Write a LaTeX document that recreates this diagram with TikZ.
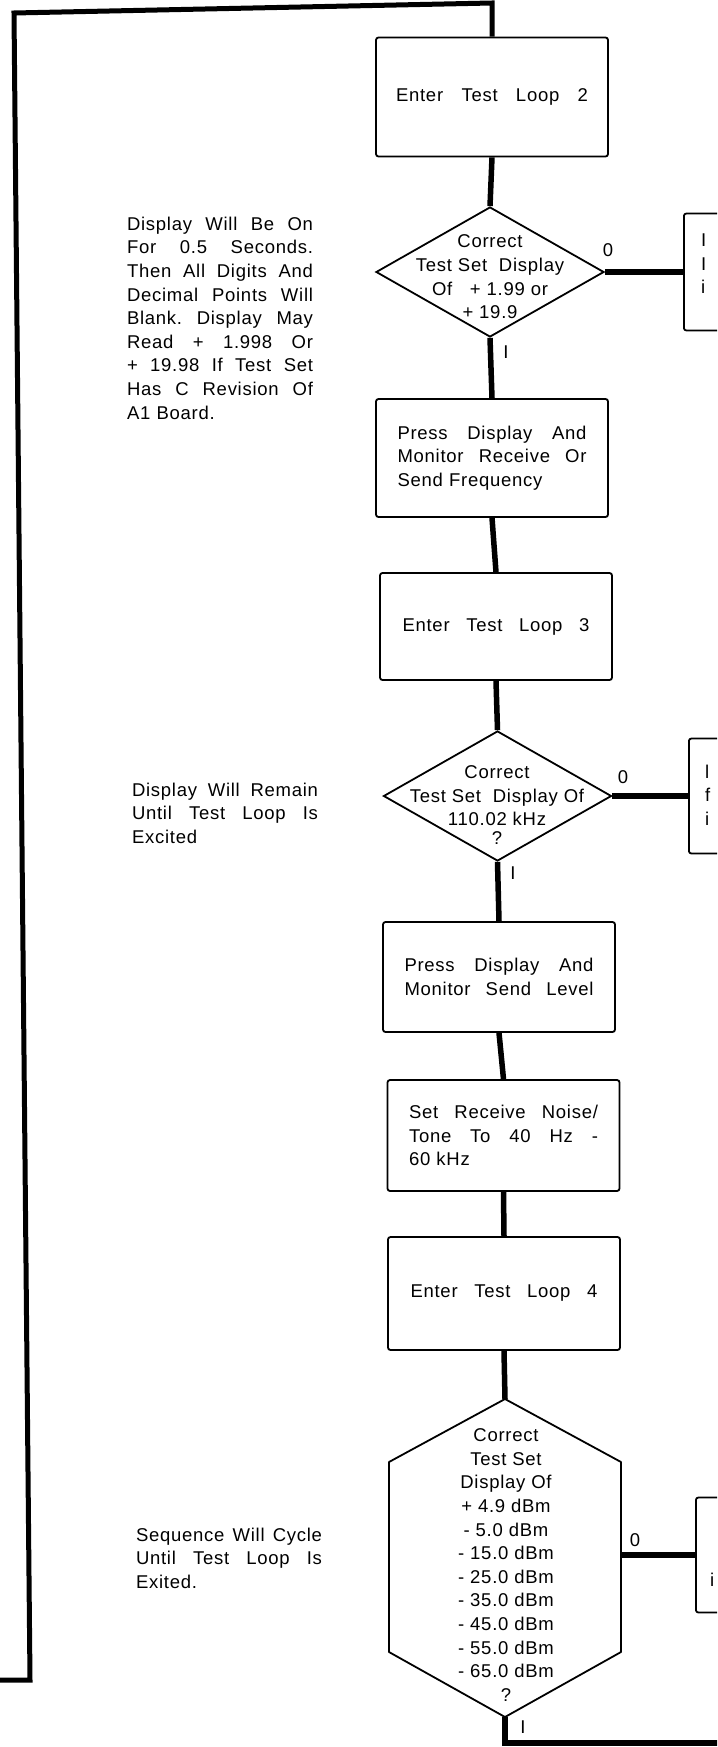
\documentclass[tikz,border=0pt]{standalone}
\usepackage{fontspec}
\setmainfont{Liberation Sans}[LetterSpace=4]
\usetikzlibrary{shapes.geometric}
\newlength{\spreadwd}
\newcommand{\flowfont}{\fontsize{18.5}{23.6}\selectfont\parindent=0pt\frenchspacing}
\newcommand{\spreadline}[1]{\leavevmode\hbox to \spreadwd{\spaceskip=0.3em plus 1fil\relax #1}}
\hbadness=10000
\tikzset{
  stepbox/.style={draw=black, line width=1.8pt, rounded corners=2.5pt, minimum width=232pt, inner sep=0pt, text width=#1, align=left, font=\flowfont, execute at begin node={\setlength{\spreadwd}{#1}}},
  stepbox/.default=189pt,
  decision/.style={diamond, draw=black, line width=1.8pt, minimum width=228pt, minimum height=130pt, inner sep=0pt},
  dectext/.style={align=center, inner sep=0pt, font=\flowfont},
  stubbox/.style={draw=black, line width=1.8pt, rounded corners=2.5pt, minimum width=100pt, minimum height=117pt, anchor=west},
  stubtext/.style={align=left, inner sep=0pt, anchor=west, font=\flowfont},
  note/.style={text width=#1, align=left, inner sep=0pt, font=\flowfont, execute at begin node={\setlength{\spreadwd}{#1}}},
  branch/.style={inner sep=0pt, font=\flowfont},
  outline/.style={draw=black, line width=1.8pt, line join=round},
  conn/.style={line width=5.5pt, draw=black},
  loopline/.style={line width=5pt, draw=black},
}

\begin{document}
\begin{tikzpicture}[x=1pt, y=-1pt]
\useasboundingbox (0,0) rectangle (717,1747);
\clip (0,0) rectangle (717,1747);

% main column
\node[stepbox=192pt, minimum height=119pt] (loop2) at (492,97) {\spreadline{Enter Test Loop 2}};
\node[decision] (dia1) at (490,272) {};
\node[dectext] (dia1txt) at (490,277) {Correct\\Test Set~ Display\\Of~~ + 1.99 or\\+ 19.9};
\node[stepbox, minimum height=118pt] (pressfreq) at (492,458) {\spreadline{Press Display And}\\ \spreadline{Monitor Receive Or}\\ Send Frequency};
\node[stepbox=187pt, minimum height=107pt] (loop3) at (496,626.5) {\spreadline{Enter Test Loop 3}};
\node[decision] (dia2) at (497.5,796) {};
\node[dectext] (dia2txt) at (497,805) {Correct\\Test Set~ Display Of\\110.02 kHz\\[-5pt]?};
\node[stepbox, minimum height=110pt] (presslevel) at (499,977) {\spreadline{Press Display And}\\ \spreadline{Monitor Send Level}};
\node[stepbox, minimum height=111pt] (settone) at (503.5,1135.5) {\spreadline{Set Receive Noise/}\\ \spreadline{Tone To 40 Hz -}\\ 60 kHz};
\node[stepbox=187pt, minimum height=113pt] (loop4) at (504,1293.5) {\spreadline{Enter Test Loop 4}};

% level check
\coordinate (hexT) at (505,1399);
\coordinate (hexUR) at (621,1462);
\coordinate (hexLR) at (621,1652);
\coordinate (hexB) at (505,1717);
\coordinate (hexLL) at (389,1652);
\coordinate (hexUL) at (389,1462);
\coordinate (hexR) at (621,1555);
\draw[outline] (hexT) -- (hexUR) -- (hexLR) -- (hexB) -- (hexLL) -- (hexUL) -- cycle;
\node[dectext] (hextxt) at (506,1565) {Correct\\Test Set\\Display Of\\+ 4.9 dBm\\- 5.0 dBm\\- 15.0 dBm\\- 25.0 dBm\\- 35.0 dBm\\- 45.0 dBm\\- 55.0 dBm\\- 65.0 dBm\\?};

% boxes cut by the right edge
\node[stubbox] (rbox1) at (683,272) {};
\node[stubtext] (rbox1txt) at (701,264) {I\\I\\i};
\node[stubbox, minimum height=115pt] (rbox2) at (688,796) {};
\node[stubtext] (rbox2txt) at (705,795) {l\\f\\i};
\node[stubbox, minimum height=115pt] (rbox3) at (695,1555) {};
\node[stubtext] (rbox3txt) at (710,1580) {i};

% branch labels
\node[branch] (no1) at (608,250) {0};
\node[branch] (yes1) at (506,352) {I};
\node[branch] (no2) at (623,777) {0};
\node[branch] (yes2) at (513,873) {I};
\node[branch] (no3) at (635,1540) {0};
\node[branch] (yes3) at (523,1727) {I};

% notes
\node[note=186pt] (note1) at (220,318) {\spreadline{Display Will Be On}\\ \spreadline{For 0.5 Seconds.}\\ \spreadline{Then All Digits And}\\ \spreadline{Decimal Points Will}\\ \spreadline{Blank. Display May}\\ \spreadline{Read + 1.998 Or}\\ \spreadline{+ 19.98 If Test Set}\\ \spreadline{Has C Revision Of}\\ A1 Board.};
\node[note=186pt] (note2) at (225,813) {\spreadline{Display Will Remain}\\ \spreadline{Until Test Loop Is}\\ Excited};
\node[note=186pt] (note3) at (229,1558) {\spreadline{Sequence Will Cycle}\\ \spreadline{Until Test Loop Is}\\ Exited.};

% connectors
\coordinate (loopstub) at (0,1680);
\coordinate (loopbl) at (30,1680);
\coordinate (looptl) at (14,13);
\coordinate (looptr) at (492,3);
\coordinate (exitdown) at (505,1743);
\coordinate (exitend) at (730,1743);
\draw[loopline] (loopstub) -- (loopbl) -- (looptl) -- (looptr) -- (loop2.north);
\draw[conn] (loop2.south) -- (dia1.north);
\draw[conn] (dia1.east) -- (rbox1.west);
\draw[conn] (dia1.south) -- (pressfreq.north);
\draw[conn] (pressfreq.south) -- (loop3.north);
\draw[conn] (loop3.south) -- (dia2.north);
\draw[conn] (dia2.east) -- (rbox2.west);
\draw[conn] (dia2.south) -- (presslevel.north);
\draw[conn] (presslevel.south) -- (settone.north);
\draw[conn] (settone.south) -- (loop4.north);
\draw[conn] (loop4.south) -- (hexT);
\draw[conn] (hexR) -- (rbox3.west);
\draw[conn] (hexB) -- (exitdown) -- (exitend);
\end{tikzpicture}
\end{document}
